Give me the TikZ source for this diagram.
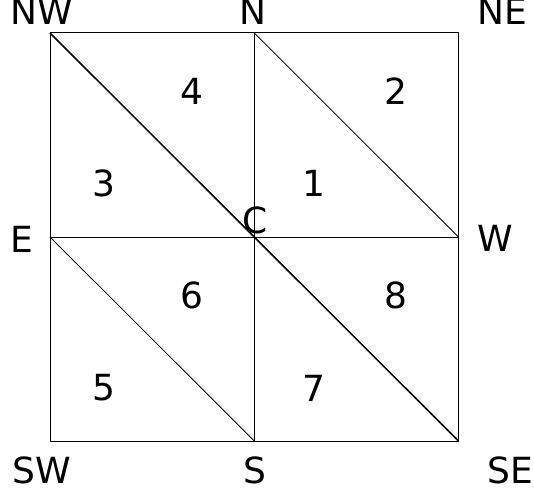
\documentclass[tikz,border=0pt]{standalone}
\usepackage{fontspec}
\setmainfont{DejaVu Sans}
\begin{document}
\begin{tikzpicture}[x=1bp,y=-1bp,
  lbl/.style={inner sep=0pt,font=\fontsize{36bp}{40bp}\selectfont},
  edge/.style={line width=1bp},
  thin/.style={line width=0.8bp},
  maindiag/.style={line width=1.5bp}]
\useasboundingbox (0,0) rectangle (534,493);
\coordinate (pNW) at (50,33);
\coordinate (pN) at (254.3,33);
\coordinate (pNE) at (458.5,33);
\coordinate (pE) at (50,237);
\coordinate (pC) at (254.3,237);
\coordinate (pW) at (458.5,237);
\coordinate (pSW) at (50,441);
\coordinate (pS) at (254.3,441);
\coordinate (pSE) at (458.5,441);
\draw[edge] (pNW) rectangle (pSE);
\draw[edge] (pN) -- (pS);
\draw[edge] (pE) -- (pW);
\draw[maindiag] (pNW) -- (pSE);
\draw[thin] (pN) -- (pW);
\draw[thin] (pE) -- (pS);
\node[lbl] (lNW) at (42,11) {NW};
\node[lbl] (lN) at (253,11) {N};
\node[lbl] (lNE) at (502,11) {NE};
\node[lbl] (lE) at (22,239) {E};
\node[lbl] (lW) at (495,238) {W};
\node[lbl] (lSW) at (41.5,470) {SW};
\node[lbl] (lS) at (255,470) {S};
\node[lbl] (lSE) at (510,470) {SE};
\node[lbl] (lC) at (255,220) {C};
\node[lbl] (n4) at (191.5,91.5) {4};
\node[lbl] (n2) at (395.5,91.5) {2};
\node[lbl] (n3) at (103.5,183) {3};
\node[lbl] (n1) at (314,183) {1};
\node[lbl] (n6) at (191.5,295.5) {6};
\node[lbl] (n8) at (396,295) {8};
\node[lbl] (n5) at (104,388) {5};
\node[lbl] (n7) at (314,388) {7};
\end{tikzpicture}
\end{document}
